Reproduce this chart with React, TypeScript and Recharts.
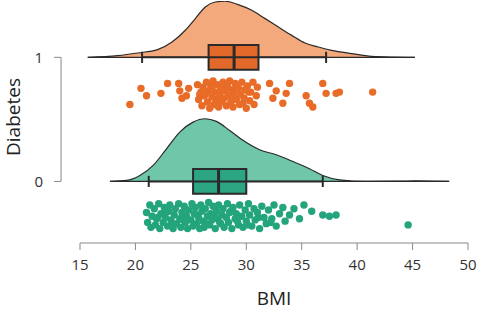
import React from "react";
import {
  ComposedChart,
  Area,
  Scatter,
  XAxis,
  YAxis,
  ReferenceArea,
  ReferenceLine,
} from "recharts";

const xTicks = [15, 20, 25, 30, 35, 40, 45, 50];
const yTicks = [0, 1];

// density outline: BMI and height above the group line
const dens1Bmi = [15.7, 18.4, 20.2, 22.0, 23.3, 24.5, 25.4, 26.3, 27.2, 28.1, 29.2, 30.5, 31.7, 32.9, 34.1, 35.3, 36.5, 37.7, 39.5, 41.3, 43.4, 45.2];
const dens1H = [0, 0.014, 0.035, 0.062, 0.123, 0.218, 0.312, 0.406, 0.446, 0.452, 0.427, 0.379, 0.312, 0.244, 0.177, 0.115, 0.083, 0.056, 0.03, 0.008, 0.002, 0];
const dens0Bmi = [17.7, 19.2, 20.4, 21.6, 22.8, 24.0, 25.2, 26.3, 27.3, 28.5, 29.7, 31.2, 32.7, 34.2, 35.7, 36.9, 38.4, 40.8, 43.8, 45.3, 48.3];
const dens0H = [0, 0.008, 0.048, 0.129, 0.263, 0.398, 0.478, 0.505, 0.484, 0.411, 0.331, 0.255, 0.215, 0.161, 0.102, 0.048, 0.013, 0, 0.002, 0.005, 0];

// box: low whisker, q1, median, q3, high whisker
const box1 = [20.6, 26.6, 28.9, 31.1, 37.2];
const box0 = [21.2, 25.2, 27.5, 30.0, 36.9];

// raw points: BMI and vertical jitter below the group line
const pts1Bmi = [19.5, 20.5, 21.0, 22.3, 22.9, 23.9, 24.0, 24.2, 24.8, 24.6,
  25.6, 25.7, 25.9, 26.0, 26.1, 26.2, 26.4, 26.5, 26.6, 26.7, 26.8, 26.9, 27.0, 27.1, 27.2, 27.3, 27.4, 27.5, 27.6, 27.7,
  27.8, 27.9, 28.0, 28.1, 28.2, 28.3, 28.4, 28.5, 28.6, 28.7, 28.8, 28.9, 29.0, 29.1, 29.3, 29.4, 29.5, 29.6, 29.8, 29.9,
  30.0, 30.1, 30.3, 30.4, 30.6, 30.7, 30.9, 31.0,
  26.3, 26.9, 27.6, 28.2, 28.9, 29.7, 30.2, 25.8, 27.3, 29.2,
  32.1, 32.7, 32.4, 33.9, 33.6, 33.3, 35.4, 35.7, 36.0, 36.9, 37.2, 38.1, 38.4, 41.4];
const pts1Jit = [-0.38, -0.25, -0.31, -0.29, -0.21, -0.21, -0.27, -0.33, -0.25, -0.31,
  -0.22, -0.34, -0.28, -0.39, -0.24, -0.31, -0.2, -0.36, -0.27, -0.41, -0.23, -0.32, -0.19, -0.38, -0.28, -0.34, -0.22, -0.4, -0.3, -0.25,
  -0.36, -0.2, -0.33, -0.27, -0.39, -0.23, -0.31, -0.19, -0.36, -0.26, -0.4, -0.29, -0.21, -0.34, -0.25, -0.38, -0.3, -0.2, -0.33, -0.26,
  -0.41, -0.23, -0.35, -0.28, -0.2, -0.38, -0.31, -0.24,
  -0.3, -0.26, -0.35, -0.22, -0.33, -0.37, -0.28, -0.3, -0.36, -0.24,
  -0.21, -0.27, -0.33, -0.21, -0.29, -0.37, -0.31, -0.37, -0.4, -0.21, -0.29, -0.29, -0.28, -0.28];

const pts0Bmi = [21.0, 21.1, 21.3, 21.4, 21.5, 21.7, 21.8, 21.9, 22.1, 22.2, 22.3, 22.5, 22.6, 22.7, 22.9, 23.0, 23.1, 23.2, 23.4, 23.5,
  23.6, 23.7, 23.9, 24.0, 24.1, 24.2, 24.4, 24.5, 24.6, 24.7, 24.8, 25.0, 25.1, 25.2, 25.3, 25.4, 25.5, 25.7, 25.8, 25.9,
  26.0, 26.1, 26.2, 26.3, 26.5, 26.6, 26.7, 26.8, 26.9, 27.0, 27.2, 27.3, 27.4, 27.5, 27.7, 27.8, 27.9, 28.0, 28.2, 28.3,
  28.4, 28.6, 28.7, 28.8, 29.0, 29.1, 29.3, 29.4, 29.6, 29.7, 29.9, 30.0, 30.2, 30.3, 30.5, 30.7, 30.8, 31.0, 31.2, 31.4,
  31.6, 31.8, 32.0, 32.3, 32.5, 32.7, 33.0, 33.3, 33.5, 33.9, 34.3, 34.8, 35.2, 35.9,
  22.0, 22.8, 23.3, 24.3, 25.6, 26.4, 27.1, 27.6, 28.5, 29.2, 30.1, 31.1, 32.2,
  36.9, 37.5, 38.1, 44.6];
const pts0Jit = [-0.25, -0.33, -0.19, -0.37, -0.28, -0.22, -0.35, -0.3, -0.18, -0.38, -0.26, -0.33, -0.21, -0.29, -0.36, -0.24, -0.19, -0.31, -0.38, -0.27,
  -0.22, -0.34, -0.18, -0.3, -0.37, -0.25, -0.2, -0.33, -0.28, -0.38, -0.23, -0.31, -0.18, -0.36, -0.26, -0.21, -0.34, -0.29, -0.38, -0.19,
  -0.24, -0.32, -0.37, -0.22, -0.28, -0.17, -0.35, -0.26, -0.31, -0.2, -0.38, -0.24, -0.3, -0.19, -0.34, -0.27, -0.22, -0.37, -0.29, -0.18,
  -0.33, -0.24, -0.38, -0.21, -0.3, -0.26, -0.35, -0.19, -0.28, -0.37, -0.23, -0.32, -0.18, -0.27, -0.36, -0.22, -0.31, -0.25, -0.38, -0.2,
  -0.29, -0.34, -0.23, -0.3, -0.19, -0.36, -0.26, -0.21, -0.32, -0.27, -0.22, -0.3, -0.19, -0.24,
  -0.29, -0.24, -0.34, -0.31, -0.27, -0.34, -0.28, -0.33, -0.25, -0.32, -0.35, -0.29, -0.33,
  -0.27, -0.28, -0.27, -0.35];

const ORANGE = { light: "#f3a97c", box: "#e2692a", dot: "#e86c27" };
const TEAL = { light: "#6fc6a8", box: "#2ba582", dot: "#24a47c" };
const INK = "#2a2a2a";
const FONT = "'Open Sans', sans-serif";

const densData = (bmi: number[], h: number[], level: number) =>
  bmi.map((x, i) => ({ x, band: [level, level + h[i]] }));
const ptsData = (bmi: number[], jit: number[], level: number) =>
  bmi.map((x, i) => ({ x, y: level + jit[i] }));

const dot = (color: string) => (p: any) =>
  <circle cx={p.cx} cy={p.cy} r={3.7} fill={color} />;

const YTick = ({ x, y, payload }: any) => (
  <g>
    <line x1={x - 26} x2={x - 19} y1={y} y2={y} stroke="#888" strokeWidth={1} />
    <text x={x - 37} y={y} dy="0.36em" textAnchor="end" fill="#333" fontSize={15} fontFamily={FONT}>
      {payload.value}
    </text>
  </g>
);

const YLabel = ({ viewBox }: any) => {
  const cx = viewBox.x + 20;
  const cy = viewBox.y + viewBox.height / 2 - 5;
  return (
    <text x={cx} y={cy} transform={`rotate(-90 ${cx} ${cy})`} textAnchor="middle" fill="#222" fontSize={19} fontFamily={FONT}>
      Diabetes
    </text>
  );
};

export default function App() {
  const boxes = [
    { box: box1, level: 1, c: ORANGE },
    { box: box0, level: 0, c: TEAL },
  ];
  return (
    <div style={{ position: "absolute", left: 0, top: 0 }}>
      <ComposedChart width={487} height={314} margin={{ top: 1, right: 19, bottom: 0, left: 0 }}>
        <XAxis
          type="number"
          dataKey="x"
          domain={[15, 50]}
          ticks={xTicks}
          allowDataOverflow
          stroke="#888"
          tickSize={7}
          tickMargin={9}
          tick={{ fill: "#333", fontSize: 15, fontFamily: FONT }}
          height={71}
          label={{ value: "BMI", position: "insideBottom", offset: 9, fill: "#222", fontSize: 19, fontFamily: FONT }}
        />
        <YAxis
          type="number"
          domain={[-0.496, 1.454]}
          ticks={yTicks}
          allowDataOverflow
          width={80}
          axisLine={false}
          tickLine={false}
          tickSize={0}
          tickMargin={0}
          tick={<YTick />}
          label={<YLabel />}
        />
        {/* y axis line only spans the two groups */}
        <ReferenceLine
          segment={[{ x: 13.29, y: 0 }, { x: 13.29, y: 1 }]}
          stroke="#888"
          strokeWidth={1}
          ifOverflow="visible"
        />
        <Area
          data={densData(dens1Bmi, dens1H, 1)}
          dataKey="band"
          type="monotone"
          stroke={INK}
          strokeWidth={1.2}
          fill={ORANGE.light}
          fillOpacity={1}
          isAnimationActive={false}
          dot={false}
          activeDot={false}
        />
        <Area
          data={densData(dens0Bmi, dens0H, 0)}
          dataKey="band"
          type="monotone"
          stroke={INK}
          strokeWidth={1.2}
          fill={TEAL.light}
          fillOpacity={1}
          isAnimationActive={false}
          dot={false}
          activeDot={false}
        />
        {boxes.map(({ box, level }) => (
          <ReferenceLine
            key={`w${level}`}
            segment={[{ x: box[0], y: level }, { x: box[4], y: level }]}
            stroke={INK}
            strokeWidth={2}
            ifOverflow="visible"
          />
        ))}
        {boxes.flatMap(({ box, level }) =>
          [box[0], box[4]].map((w, i) => (
            <ReferenceLine
              key={`c${level}${i}`}
              segment={[{ x: w, y: level - 0.045 }, { x: w, y: level + 0.045 }]}
              stroke={INK}
              strokeWidth={2}
              ifOverflow="visible"
            />
          ))
        )}
        {boxes.map(({ box, level, c }) => (
          <ReferenceArea
            key={`b${level}`}
            x1={box[1]}
            x2={box[3]}
            y1={level - 0.1}
            y2={level + 0.1}
            fill={c.box}
            fillOpacity={1}
            stroke={INK}
            strokeWidth={2}
            ifOverflow="visible"
          />
        ))}
        {boxes.map(({ box, level }) => (
          <ReferenceLine
            key={`m${level}`}
            segment={[{ x: box[2], y: level - 0.1 }, { x: box[2], y: level + 0.1 }]}
            stroke={INK}
            strokeWidth={3}
            ifOverflow="visible"
          />
        ))}
        <Scatter
          data={ptsData(pts1Bmi, pts1Jit, 1)}
          dataKey="y"
          shape={dot(ORANGE.dot)}
          isAnimationActive={false}
        />
        <Scatter
          data={ptsData(pts0Bmi, pts0Jit, 0)}
          dataKey="y"
          shape={dot(TEAL.dot)}
          isAnimationActive={false}
        />
      </ComposedChart>
    </div>
  );
}
